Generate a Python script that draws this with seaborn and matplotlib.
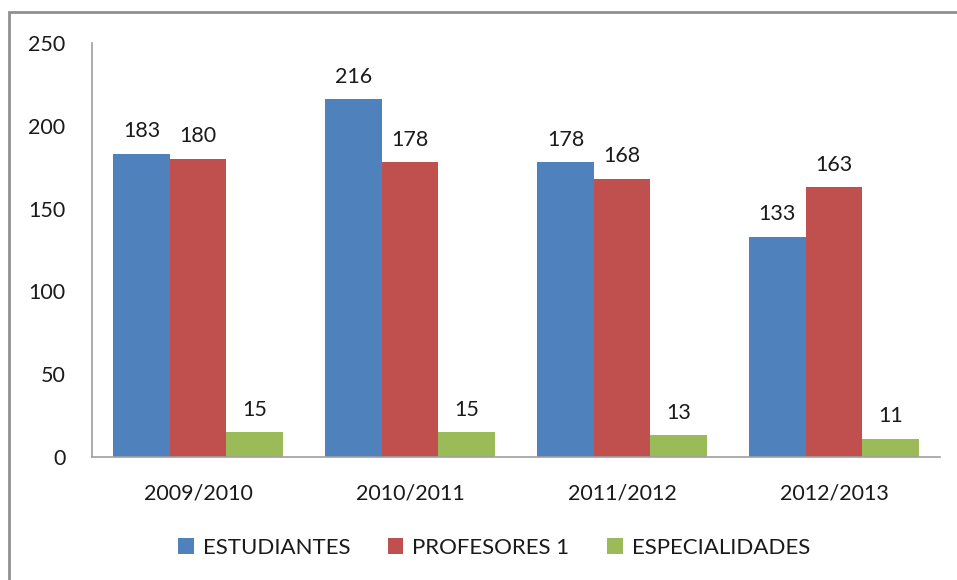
import matplotlib
matplotlib.use("Agg")
import matplotlib.pyplot as plt
import seaborn as sns
import pandas as pd
from matplotlib.patches import Rectangle

categories = ["2009/2010", "2010/2011", "2011/2012", "2012/2013"]
series_names = ["ESTUDIANTES", "PROFESORES 1", "ESPECIALIDADES"]
estudiantes = [183, 216, 178, 133]
profesores = [180, 178, 168, 163]
especialidades = [15, 15, 13, 11]
colors = ["#4F81BD", "#C0504D", "#9BBB59"]
yticks = [0, 50, 100, 150, 200, 250]

rows = []
for name, vals in zip(series_names, [estudiantes, profesores, especialidades]):
    for c, v in zip(categories, vals):
        rows.append({"Curso": c, "Serie": name, "Valor": v})
df = pd.DataFrame(rows)

sns.set_theme(style="white")
plt.rcParams["font.family"] = ["Lato", "DejaVu Sans"]
plt.rcParams["text.color"] = "#1a1a1a"

fig = plt.figure(figsize=(9.57, 5.80), dpi=100)
ax = fig.add_axes([92/957, 1-457/580, (940-92)/957, (457-43)/580])

sns.barplot(data=df, x="Curso", y="Valor", hue="Serie", order=categories,
            hue_order=series_names, palette=colors, width=0.8, saturation=1,
            ax=ax, legend=True, linewidth=0)

for cont in ax.containers:
    ax.bar_label(cont, labels=[f"{int(v)}" for v in cont.datavalues],
                 padding=9, fontsize=15.5, color="#1a1a1a")

ax.set_ylim(0, 250)
ax.set_xlim(-0.5, 3.5)
ax.set_yticks(yticks)
ax.set_yticklabels([str(t) for t in yticks], fontsize=15.5, color="#1a1a1a")
ax.tick_params(axis="y", length=0, pad=19)
ax.tick_params(axis="x", length=0, pad=19, labelsize=15.5, labelcolor="#1a1a1a")
ax.set_xlabel("")
ax.set_ylabel("")
for s in ["top", "right"]:
    ax.spines[s].set_visible(False)
ax.spines["left"].set_color("#A0A0A0")
ax.spines["bottom"].set_color("#A0A0A0")
ax.spines["left"].set_linewidth(1.2)
ax.spines["bottom"].set_linewidth(1.2)

handles, labels = ax.get_legend_handles_labels()
ax.get_legend().remove()
fig.legend(handles, labels, loc="center", bbox_to_anchor=(494/957, 1-548/580),
           ncol=3, frameon=False, fontsize=16, handlelength=0.7, handleheight=0.7,
           handletextpad=0.4, columnspacing=1.7, borderaxespad=0)

fig.patches.append(Rectangle((9/957, -0.1), 1.2, 1-12/580+0.1, transform=fig.transFigure,
                             fill=False, edgecolor="#909090", linewidth=2, figure=fig))

fig.savefig("out.png", dpi=100)
